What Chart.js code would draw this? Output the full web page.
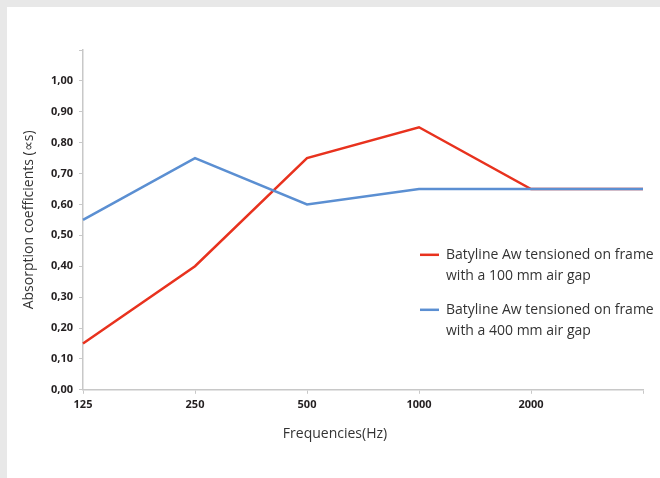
<!DOCTYPE html>
<html>
<head>
<meta charset="utf-8">
<script src="https://cdn.jsdelivr.net/npm/chart.js@4/dist/chart.umd.min.js"></script>
<style>
  html, body { margin: 0; padding: 0; background: #e8e8e8; }
  #wrap { position: absolute; left: 7px; top: 7px; width: 653px; height: 471px; background: #fff; }
</style>
</head>
<body>
<div id="wrap"><canvas id="chart"></canvas></div>
<script>
const frequencies = ['125', '250', '500', '1000', '2000', ''];
const gap100 = [0.15, 0.40, 0.75, 0.85, 0.65, 0.65];
const gap400 = [0.55, 0.75, 0.60, 0.65, 0.65, 0.65];
const legend100 = ['Batyline Aw tensioned on frame', 'with a 100 mm air gap'];
const legend400 = ['Batyline Aw tensioned on frame', 'with a 400 mm air gap'];
const xTitle = 'Frequencies(Hz)';
const yTitle = 'Absorption coefficients (\u221Ds)';

const axisGray = '#c8c8c8';
const fontFam = '"Open Sans", "Noto Sans", sans-serif';

// legend inside the plot (two lines per entry) and the x title, which sits left of centre
const extras = {
    id: 'extras',
    afterDraw(chart) {
        const ctx = chart.ctx;
        const xs = chart.scales.x, ys = chart.scales.y;
        const x = xs.getPixelForValue(3) + 1;
        const y0 = ys.getPixelForValue(0.437);
        ctx.save();
        ctx.font = '14px ' + fontFam;
        ctx.textBaseline = 'middle';
        chart.data.datasets.forEach((ds, i) => {
            const y = y0 + i * 55;
            ctx.strokeStyle = ds.borderColor;
            ctx.lineWidth = 2.5;
            ctx.beginPath();
            ctx.moveTo(x, y);
            ctx.lineTo(x + 19, y);
            ctx.stroke();
            ctx.fillStyle = '#333';
            ds.legendLines.forEach((t, j) => ctx.fillText(t, x + 26, y + j * 21));
        });
        ctx.textAlign = 'center';
        ctx.fillText(xTitle, xs.getPixelForValue(2) + 28, ys.bottom + 44);
        ctx.restore();
    }
};

new Chart(document.getElementById('chart').getContext('2d'), {
    type: 'line',
    data: {
        labels: frequencies,
        datasets: [
            { label: legend100.join(' '), legendLines: legend100, data: gap100, borderColor: '#e8321e', borderWidth: 2.5, pointRadius: 0, tension: 0, order: 1 },
            { label: legend400.join(' '), legendLines: legend400, data: gap400, borderColor: '#5b8fd2', borderWidth: 2.5, pointRadius: 0, tension: 0, order: 0 }
        ]
    },
    options: {
        responsive: true,
        maintainAspectRatio: false,
        animation: false,
        layout: { padding: { top: 43, right: 17, bottom: 63, left: 0 } },
        plugins: { legend: { display: false }, tooltip: { enabled: false } },
        scales: {
            x: {
                offset: false,
                grid: { drawOnChartArea: false, drawTicks: true, tickLength: 4, color: axisGray },
                border: { color: axisGray, width: 1.5 },
                ticks: { color: '#231f20', font: { family: fontFam, size: 11, weight: 'bold' }, padding: 4, maxRotation: 0, autoSkip: false }
            },
            y: {
                min: 0,
                max: 1.1,
                afterFit: s => { s.width = 76; },
                grid: { drawOnChartArea: false, drawTicks: true, tickLength: 4, color: axisGray },
                border: { color: axisGray, width: 1.5 },
                ticks: {
                    stepSize: 0.1,
                    padding: 6,
                    color: '#231f20',
                    font: { family: fontFam, size: 11, weight: 'bold' },
                    callback: v => v > 1.05 ? '' : v.toFixed(2).replace('.', ',')
                },
                title: { display: true, text: yTitle, color: '#333', font: { family: fontFam, size: 14 }, padding: { top: 14, bottom: 0 } }
            }
        }
    },
    plugins: [extras]
});
</script>
</body>
</html>
